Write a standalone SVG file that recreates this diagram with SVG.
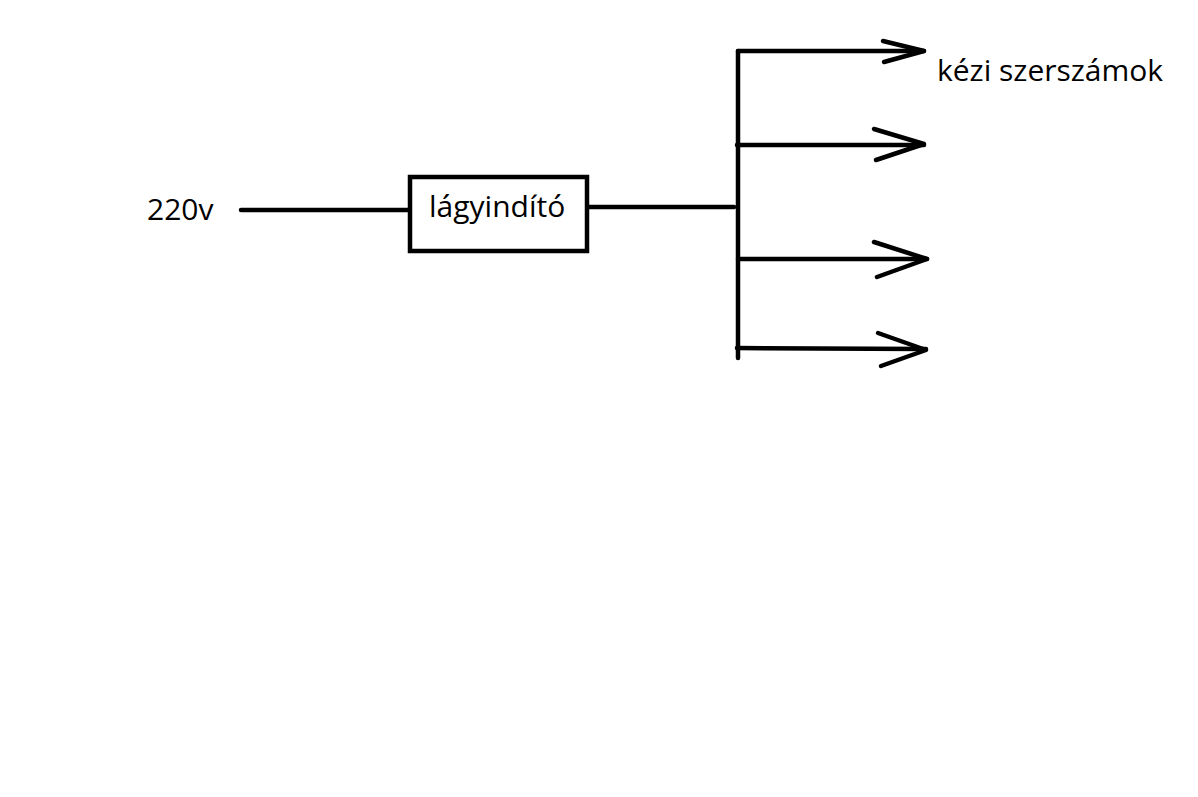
<svg xmlns="http://www.w3.org/2000/svg" width="1198" height="797" viewBox="0 0 1198 797">
<style>
.t{font-family:"Open Sans","Noto Sans",sans-serif;font-size:30px;fill:#000}
.w{stroke:#000;stroke-width:4.5;fill:none;stroke-linecap:round;stroke-linejoin:round}
</style>
<rect width="1198" height="797" fill="#fff"/>
<g id="source"><text class="t" x="147" y="220">220v</text></g>
<g id="softstarter">
<rect x="410" y="177" width="177" height="74" fill="#fff" stroke="#000" stroke-width="4.5"/>
<text class="t" x="429" y="217">lágyindító</text>
</g>
<g id="tools"><text class="t" x="937" y="81">kézi szerszámok</text></g>
<g id="connectors" class="w">
<line x1="241" y1="210" x2="408" y2="210"/>
<line x1="589" y1="207" x2="734" y2="207"/>
<line x1="738" y1="51" x2="738" y2="358"/>
<line x1="738" y1="51" x2="924" y2="51"/>
<polyline points="883,41 924,51 884,62"/>
<line x1="737" y1="145" x2="924" y2="145"/>
<polyline points="874,129 924,144 876,160"/>
<line x1="738" y1="259" x2="927" y2="259"/>
<polyline points="874,242 927,259 877,277"/>
<line x1="737" y1="348" x2="926" y2="349"/>
<polyline points="878,333 926,350 881,366"/>
</g>
</svg>
